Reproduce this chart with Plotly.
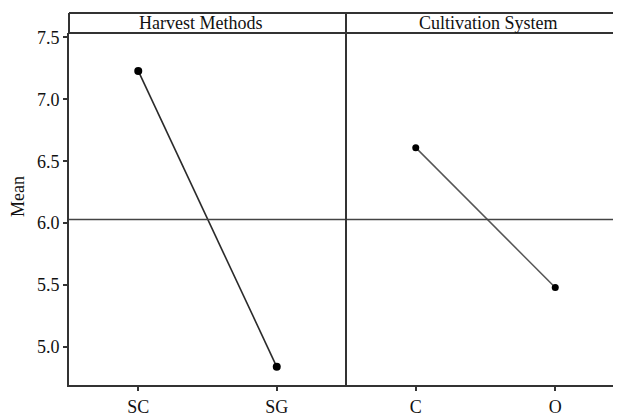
import plotly.graph_objects as go

factor_names = ["Harvest Methods", "Cultivation System"]
harvest_levels = ["SC", "SG"]
harvest_means = [7.23, 4.84]
cultivation_levels = ["C", "O"]
cultivation_means = [6.61, 5.48]
grand_mean = 6.03
y_ticks = [5.0, 5.5, 6.0, 6.5, 7.0, 7.5]

FONT = "Liberation Serif"
FS = 18
OFF = 8  # page body margin
W, H = 617, 416 - OFF
ML, MR, MT, MB = 69 - OFF, 0, 13 - OFF, 416 - 385
PW = W - ML - MR
PH = H - MT - MB
split = (346 - 69) / PW
ydom_top = (385 - 33) / PH

fig = go.Figure()
fig.add_trace(go.Scatter(
    x=harvest_levels, y=harvest_means, mode="lines+markers",
    line=dict(color="#2a2a2a", width=1.6),
    marker=dict(color="black", size=8),
    xaxis="x", yaxis="y", showlegend=False))
fig.add_trace(go.Scatter(
    x=cultivation_levels, y=cultivation_means, mode="lines+markers",
    line=dict(color="#555555", width=1.5),
    marker=dict(color="black", size=7),
    xaxis="x2", yaxis="y", showlegend=False))

axis_common = dict(
    type="category", range=[-0.5, 1.5], showgrid=False, zeroline=False,
    showline=True, linecolor="#333333", linewidth=2, automargin=False,
    ticks="outside", ticklen=4, tickwidth=1.5, tickcolor="#333333",
    tickfont=dict(family=FONT, size=FS, color="#111111"),
)
fig.update_layout(
    width=W, height=H,
    margin=dict(l=ML, r=MR, t=MT, b=MB, autoexpand=False),
    paper_bgcolor="white", plot_bgcolor="white",
    xaxis=dict(domain=[0, split], **axis_common),
    xaxis2=dict(domain=[split, 1], **axis_common),
    yaxis=dict(
        domain=[0, ydom_top], range=[4.693, 7.536], automargin=False,
        tickvals=y_ticks, ticktext=[f"{v:.1f}" for v in y_ticks],
        showgrid=False, zeroline=False,
        showline=True, linecolor="#333333", linewidth=2,
        ticks="outside", ticklen=4, tickwidth=1.5, tickcolor="#333333",
        tickfont=dict(family=FONT, size=FS, color="#111111"),
    ),
)

shapes = []
shapes.append(dict(type="line", xref="paper", yref="y", x0=0, x1=1,
                   y0=grand_mean, y1=grand_mean,
                   line=dict(color="#444444", width=1.5)))
shapes.append(dict(type="line", xref="paper", yref="paper", x0=split, x1=split,
                   y0=0, y1=1, line=dict(color="#333333", width=2)))
for yy in [ydom_top, 1]:
    shapes.append(dict(type="line", xref="paper", yref="paper", x0=0, x1=1,
                       y0=yy, y1=yy, line=dict(color="#333333", width=2)))
shapes.append(dict(type="line", xref="paper", yref="paper", x0=0, x1=0,
                   y0=ydom_top, y1=1, line=dict(color="#333333", width=2)))
fig.update_layout(shapes=shapes)

label_x = [(200 - 69) / PW, (488 - 69) / PW]
for name, lx in zip(factor_names, label_x):
    fig.add_annotation(text=name, xref="paper", yref="paper",
                       x=lx, y=(1 + ydom_top) / 2, showarrow=False,
                       xanchor="center", yanchor="middle",
                       font=dict(family=FONT, size=FS, color="#111111"))

fig.add_annotation(text="Mean", xref="paper", yref="paper",
                   x=(18 - 69) / PW, y=(385 - 197) / PH, textangle=-90,
                   showarrow=False, xanchor="center", yanchor="middle",
                   font=dict(family=FONT, size=FS, color="#111111"))

fig.write_html("out.html")
